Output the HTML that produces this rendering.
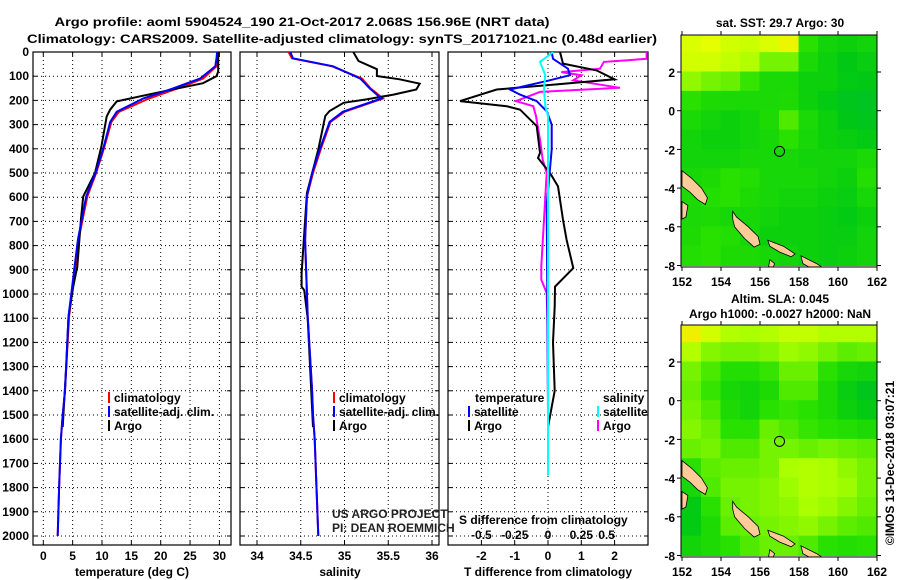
<!DOCTYPE html>
<html><head><meta charset="utf-8"><style>
html,body{margin:0;padding:0;background:#fff;}
svg{display:block;font-family:"Liberation Sans",sans-serif;}
.b{font-weight:bold;font-size:12px;}
</style></head><body>
<svg id="c" width="900" height="580" viewBox="0 0 900 580" xmlns="http://www.w3.org/2000/svg">
<defs>
<clipPath id="cp1"><rect x="33" y="52" width="198" height="493"/></clipPath>
<clipPath id="cp2"><rect x="240" y="52" width="199" height="493"/></clipPath>
<clipPath id="cp3"><rect x="448" y="52" width="200" height="493"/></clipPath>
<clipPath id="cm1"><rect x="681" y="35" width="196" height="232"/></clipPath>
<clipPath id="cm2"><rect x="681" y="325" width="196" height="232"/></clipPath>
</defs>
<text x="302" y="26" text-anchor="middle" class="b" font-size="13" textLength="495" lengthAdjust="spacingAndGlyphs">Argo profile: aoml 5904524_190 21-Oct-2017 2.068S 156.96E (NRT data)</text>
<text x="342" y="43" text-anchor="middle" class="b" font-size="13" textLength="630" lengthAdjust="spacingAndGlyphs">Climatology: CARS2009. Satellite-adjusted climatology: synTS_20171021.nc (0.48d earlier)</text>
<g id="g"></g>
</svg>
<script>
// ---------- profile data ----------
const climDepth = [0,26,59,110,151,192,247,289,400,500,597,776,1093,1400,1500,1600,1800,2000];
const climTemp  = [29.8,29.7,29.5,27.2,22.8,18,12.9,11.6,10.3,9.0,7.5,6.0,4.4,3.7,3.3,3.0,2.7,2.45];
const satTemp   = [29.6,29.5,29.3,26.7,22.1,17,12.5,11.4,10.2,8.9,7.3,5.9,4.3,3.7,3.3,3.0,2.7,2.45];
const climSal   = [34.36,34.4,34.86,35.2,35.3,35.44,35.0,34.84,34.73,34.64,34.57,34.55,34.58,34.63,34.64,34.66,34.68,34.7];
const satSal    = [34.38,34.41,34.87,35.18,35.29,35.42,34.98,34.83,34.72,34.63,34.57,34.55,34.58,34.63,34.64,34.66,34.68,34.7];
const argoDepth = [0,80,100,129,160,183,204,238,266,390,500,597,694,887,970,1093,1300,1550];
const argoTemp  = [29.8,29.8,29.5,27.2,21,16.5,12.5,11.4,10.8,9.9,8.8,6.8,6.4,5.8,5.1,4.3,3.9,3.3];
const argoSalDepth = [0,37,71,99,113,131,155,176,196,210,244,264,403,583,915,970,984,1100,1550];
const argoSal   = [35.1,35.16,35.37,35.37,35.63,35.86,35.82,35.56,35.25,34.99,34.83,34.78,34.7,34.57,34.51,34.51,34.54,34.58,34.64];
// differences
const dTArgoDepth = [0,48,76,113,134,155,203,224,238,306,417,438,500,555,693,776,893,970,1052,1200,1400,1550];
const dTArgo      = [0.36,0.45,1.46,2.0,0.26,-1.54,-2.64,-1.24,-0.84,-0.34,-0.24,-0.3,0.06,0.3,0.45,0.56,0.76,0.21,0.2,0.15,0.2,0.0];
const dTSatDepth  = [0,28,69,96,117,155,176,203,245,300,403,636,1000,1500,1750];
const dTSat       = [0.11,0.15,0.6,0.66,0.05,-1.14,-0.84,-0.34,-0.04,0.11,0.11,-0.04,-0.02,0.0,0.0];
const dSArgoDepth = [0,28,41,69,83,96,117,148,165,203,224,265,362,445,500,886,941,996,1200,1500];
const dSArgo      = [0.74,0.74,0.42,0.39,0.1,0.25,0.19,0.54,-0.06,-0.24,-0.11,-0.09,-0.06,-0.04,-0.01,-0.05,-0.05,-0.01,0.0,0.0];
const dSSatDepth  = [0,41,96,155,224,265,500,1000,1500,1750];
const dSSat       = [0.04,-0.06,-0.02,-0.03,-0.02,0.0,0.0,0.0,0.0,0.0];
const depthTicks = [0,100,200,300,400,500,600,700,800,900,1000,1100,1200,1300,1400,1500,1600,1700,1800,1900,2000];
const tempTicks = [0,5,10,15,20,25,30];
const salTicks = [34,34.5,35,35.5,36];
const salTickLabels = ['34','34.5','35','35.5','36'];
const dTTicks = [-2,-1,0,1,2];
const dSTicks = [-0.5,-0.25,0,0.25,0.5];
const dSTickLabels = ['-0.5','-0.25','0','0.25','0.5'];
// ---------- map data (rows lat 4 -> -8, cols lon 152 -> 162), value 0..1 ----------
const sstGrid = [
 [0.82,0.85,0.8,0.78,0.82,0.88,0.5,0.42,0.4,0.42],
 [0.8,0.8,0.76,0.72,0.62,0.62,0.45,0.4,0.35,0.38],
 [0.66,0.62,0.6,0.52,0.45,0.45,0.4,0.4,0.36,0.35],
 [0.5,0.46,0.45,0.45,0.45,0.46,0.4,0.36,0.32,0.3],
 [0.45,0.42,0.4,0.42,0.46,0.56,0.45,0.4,0.34,0.32],
 [0.42,0.4,0.4,0.42,0.44,0.5,0.44,0.4,0.38,0.36],
 [0.42,0.42,0.42,0.44,0.44,0.44,0.42,0.42,0.42,0.45],
 [0.44,0.46,0.5,0.48,0.44,0.44,0.44,0.42,0.4,0.48],
 [0.46,0.48,0.5,0.46,0.44,0.42,0.42,0.4,0.38,0.44],
 [0.45,0.46,0.44,0.44,0.42,0.4,0.4,0.38,0.36,0.4],
 [0.46,0.5,0.48,0.44,0.4,0.4,0.4,0.38,0.38,0.42],
 [0.48,0.5,0.46,0.46,0.44,0.42,0.4,0.38,0.4,0.42]];
const slaGrid = [
 [0.9,0.8,0.72,0.7,0.72,0.76,0.76,0.72,0.72,0.72],
 [0.72,0.64,0.62,0.62,0.64,0.68,0.66,0.62,0.58,0.6],
 [0.62,0.55,0.48,0.48,0.52,0.6,0.6,0.5,0.44,0.42],
 [0.6,0.52,0.44,0.42,0.46,0.56,0.56,0.46,0.38,0.32],
 [0.62,0.56,0.46,0.42,0.5,0.52,0.5,0.46,0.4,0.36],
 [0.64,0.6,0.5,0.5,0.6,0.56,0.52,0.5,0.48,0.46],
 [0.6,0.62,0.56,0.56,0.62,0.62,0.6,0.62,0.6,0.58],
 [0.5,0.58,0.6,0.6,0.62,0.7,0.72,0.7,0.66,0.62],
 [0.44,0.56,0.62,0.62,0.64,0.68,0.72,0.7,0.68,0.62],
 [0.36,0.5,0.6,0.62,0.64,0.66,0.7,0.68,0.64,0.6],
 [0.36,0.46,0.58,0.6,0.62,0.64,0.66,0.62,0.58,0.56],
 [0.42,0.46,0.5,0.56,0.6,0.6,0.56,0.5,0.48,0.5]];
const lands = [
 [[152,-3.1],[152.5,-3.5],[153,-4],[153.3,-4.5],[153.2,-4.85],[152.8,-4.6],[152.4,-4.2],[152,-3.9]],
 [[152,-4.7],[152.3,-4.9],[152.2,-5.5],[152,-5.6]],
 [[154.6,-5.2],[154.8,-5.5],[155.4,-6],[155.9,-6.5],[156,-6.9],[155.7,-7.05],[155.2,-6.6],[154.7,-6],[154.6,-5.6]],
 [[156.4,-6.7],[157.2,-7],[157.8,-7.4],[157.6,-7.55],[157,-7.3],[156.5,-7]],
 [[158.1,-7.5],[158.9,-7.9],[159.5,-8.3],[158.9,-8.3],[158.2,-7.9]],
 [[156.5,-7.7],[156.75,-7.9],[156.6,-8.3],[156.4,-8.3]]];

const NS='http://www.w3.org/2000/svg';
const G=document.getElementById('g');
function mk(tag,attrs,parent){const e=document.createElementNS(NS,tag);for(const k in attrs)e.setAttribute(k,attrs[k]);(parent||G).appendChild(e);return e;}
function txt(x,y,s,anchor,cls,parent){const e=mk('text',{x:x,y:y,'text-anchor':anchor||'middle','class':cls||'b'},parent);e.textContent=s;return e;}

const yD = d => 52 + 0.242*d;
const xT = t => 43.3 + 5.87*t;
const xS = s => 257 + 87.5*(s-34);
const xdT = t => 548 + 33.3*t;
const xdS = s => 548 + 133.2*s;

function panel(x0,x1,name,gridXs){
  const p=mk('g',{});
  
  
  gridXs.forEach(x=>mk('line',{x1:x,x2:x,y1:52,y2:545,stroke:'#000','stroke-dasharray':'1,3','stroke-width':1},p));
  depthTicks.forEach(d=>{mk('line',{x1:x0,x2:x1,y1:yD(d),y2:yD(d),stroke:'#000','stroke-dasharray':'1,3'},p);
    mk('line',{x1:x0,x2:x0+4,y1:yD(d),y2:yD(d),stroke:'#000'},p);mk('line',{x1:x1-4,x2:x1,y1:yD(d),y2:yD(d),stroke:'#000'},p);});
  gridXs.forEach(x=>{mk('line',{x1:x,x2:x,y1:52,y2:56,stroke:'#000'},p);mk('line',{x1:x,x2:x,y1:541,y2:545,stroke:'#000'},p);});
  mk('rect',{x:x0,y:52,width:x1-x0,height:493,fill:'none',stroke:'#000','stroke-width':1.2},p);
  return p;
}
function line(xs,ds,fx,color,clip,name){
  const pts=xs.map((v,i)=>fx(v).toFixed(1)+','+yD(ds[i]).toFixed(1)).join(' ');
  const e=mk('polyline',{points:pts,fill:'none',stroke:color,'stroke-width':2,'clip-path':'url(#'+clip+')'});
  
  
}
// depth labels
depthTicks.forEach(d=>{const t=txt(29,yD(d)+4,String(d),'end');
  
  });

// panel 1
panel(33,231,'temperature-panel',tempTicks.map(xT));
tempTicks.forEach(t=>txt(xT(t),560,String(t)));
txt(132,576,'temperature (deg C)');
line(climTemp,climDepth,xT,'#f00','cp1','climatology-temp-line');
line(argoTemp,argoDepth,xT,'#000','cp1','argo-temp-line');
line(satTemp,climDepth,xT,'#00f','cp1','satellite-temp-line');
// panel 2
panel(240,439,'salinity-panel',salTicks.map(xS));
salTicks.forEach((s,i)=>txt(xS(s),560,salTickLabels[i]));
txt(340,576,'salinity');
line(climSal,climDepth,xS,'#f00','cp2','climatology-sal-line');
line(argoSal,argoSalDepth,xS,'#000','cp2','argo-sal-line');
line(satSal,climDepth,xS,'#00f','cp2','satellite-sal-line');
// panel 3
panel(448,648,'difference-panel',dTTicks.map(xdT));
dTTicks.forEach(t=>txt(xdT(t),560,String(t)));
txt(548,576,'T difference from climatology');
line(dSArgo,dSArgoDepth,xdS,'#f0f','cp3','argo-sal-diff-line');
line(dTArgo,dTArgoDepth,xdT,'#000','cp3','argo-temp-diff-line');
line(dTSat,dTSatDepth,xdT,'#00f','cp3','satellite-temp-diff-line');
line(dSSat,dSSatDepth,xdS,'#0ff','cp3','satellite-sal-diff-line');
const sl=txt(459,524,'S difference from climatology','start');


dSTicks.forEach((s,i)=>txt(xdS(s)+(s===0.5?-8:0),539,dSTickLabels[i]));

// legends
function leg(x,y,color,label){
  mk('rect',{x:x,y:y-10,width:2,height:11,fill:color});
  const t=txt(x+6,y,label,'start');
  
  
}
leg(108,402,'#f00','climatology');leg(108,416,'#00f','satellite-adj. clim.');leg(108,430,'#000','Argo');
leg(333,402,'#f00','climatology');leg(333,416,'#00f','satellite-adj. clim.');leg(333,430,'#000','Argo');
txt(475,402,'temperature','start');txt(603,402,'salinity','start');
leg(468,416,'#00f','satellite');leg(468,430,'#000','Argo');
leg(597,416,'#0ff','satellite');leg(597,430,'#f0f','Argo');
const us=txt(332,518,'US ARGO PROJECT','start','');us.setAttribute('font-size','12');us.setAttribute('fill','#222');
const pi=txt(332,532,'PI: DEAN ROEMMICH','start','');pi.setAttribute('font-size','12');pi.setAttribute('fill','#222');

// ---------- maps ----------
function col(v){
  const stops=[[0,[0,170,110]],[0.35,[0,200,20]],[0.5,[40,225,0]],[0.7,[170,255,0]],[0.85,[230,255,0]],[1,[255,210,0]]];
  for(let i=1;i<stops.length;i++){if(v<=stops[i][0]){const a=stops[i-1],b=stops[i],f=(v-a[0])/(b[0]-a[0]);
    return 'rgb('+a[1].map((c,j)=>Math.round(c+f*(b[1][j]-c))).join(',')+')';}}
  return 'rgb(255,210,0)';
}
function map(top,grid,clip,name){
  const m=mk('g',{'clip-path':'url(#'+clip+')'});
  
  
  const lx=l=>682+19.5*(l-152), ly=l=>top+37+19.35*(2-l);
  grid.forEach((row,r)=>row.forEach((v,c)=>{
    const cell=mk('rect',{x:lx(152+c)-0.5,y:ly(4-r)-0.5,width:20.5,height:20.4,fill:col(v)},m);
    
    
  }));
  lands.forEach(poly=>{const p=mk('polygon',{points:poly.map(q=>lx(q[0]).toFixed(1)+','+ly(q[1]).toFixed(1)).join(' '),fill:'#ffcc99',stroke:'#000','stroke-width':0.8},m);
    
    });
  const ci=mk('circle',{cx:lx(157),cy:ly(-2.1),r:5,fill:'none',stroke:'#000','stroke-width':1});
  
  
  mk('rect',{x:681,y:top,width:196,height:232,fill:'none',stroke:'#000'});
  [152,154,156,158,160,162].forEach(l=>{mk('line',{x1:lx(l),x2:lx(l),y1:top+232,y2:top+236,stroke:'#000'});mk('line',{x1:lx(l),x2:lx(l),y1:top-4,y2:top,stroke:'#000'});
    const t=txt(lx(l),top+251,String(l),'middle');t.setAttribute('font-size','13');});
  [2,0,-2,-4,-6,-8].forEach(l=>{mk('line',{x1:677,x2:681,y1:ly(l),y2:ly(l),stroke:'#000'});mk('line',{x1:877,x2:881,y1:ly(l),y2:ly(l),stroke:'#000'});
    txt(675,ly(l)+5,String(l),'end');});
}
map(35,sstGrid,'cm1','sst-map');
map(325,slaGrid,'cm2','sla-map');
txt(780,27,'sat. SST: 29.7 Argo: 30');
txt(780,303,'Altim. SLA: 0.045');
txt(780,318,'Argo h1000: -0.0027 h2000: NaN');
const im=txt(0,0,'©IMOS 13-Dec-2018 03:07:21','middle','');
im.setAttribute('font-size','12');
im.setAttribute('transform','translate(894,463) rotate(-90)');


</script>
</body></html>
